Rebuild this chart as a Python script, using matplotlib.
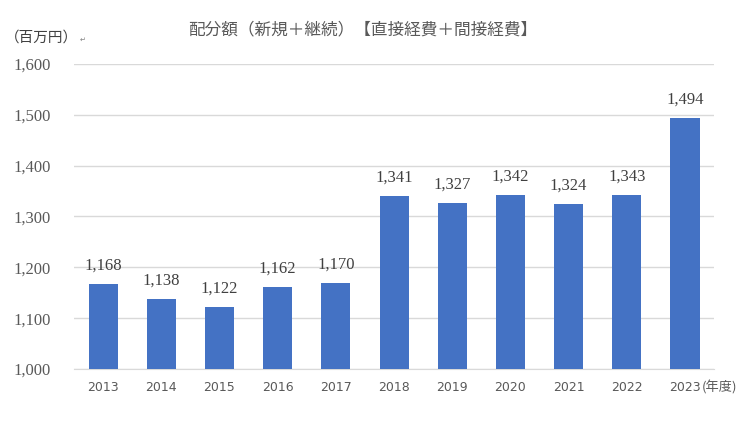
import numpy as np
import matplotlib
matplotlib.use("Agg")
import matplotlib.pyplot as plt

years = ["2013", "2014", "2015", "2016", "2017", "2018", "2019", "2020", "2021", "2022", "2023"]
values = [1168, 1138, 1122, 1162, 1170, 1341, 1327, 1342, 1324, 1343, 1494]
yticks = [1000, 1100, 1200, 1300, 1400, 1500, 1600]

jp = ["Noto Sans CJK JP", "DejaVu Sans"]
serif = "Liberation Serif"
txt = "#595959"

fig = plt.figure(figsize=(7.4, 4.23), dpi=100)
ax = fig.add_axes([0.1, 0.1277, 0.865, 0.721])

x = np.arange(len(years))
ax.bar(x, values, width=0.5, color="#4472C4", zorder=3)
for xi, v in zip(x, values):
    ax.text(xi, v + 20, f"{v:,}", ha="center", va="bottom", fontsize=12,
            family=serif, color="#404040")

ax.set_ylim(1000, 1600)
ax.set_xlim(-0.5, len(years) - 0.5)
ax.set_yticks(yticks)
ax.set_yticklabels([f"{t:,}" for t in yticks], family=serif, fontsize=12, color=txt)
ax.set_xticks(x)
ax.set_xticklabels(years, fontsize=9, color=txt)
ax.tick_params(length=0)
ax.tick_params(axis="y", pad=17)
ax.tick_params(axis="x", pad=9)
ax.text(len(years) - 1 + 0.28, -0.038, "(年度)", transform=ax.get_xaxis_transform(),
        ha="left", va="top", fontsize=9.5, color=txt, family=jp)

ax.grid(axis="y", color="#D9D9D9", linewidth=1, zorder=0)
for s in ["top", "right", "left"]:
    ax.spines[s].set_visible(False)
ax.spines["bottom"].set_color("#D9D9D9")

fig.text(0.49, 0.93, "配分額（新規＋継続）【直接経費＋間接経費】", ha="center", va="center",
         fontsize=12, color=txt, family=jp)
fig.text(0.006, 0.912, "（百万円）", ha="left", va="center", fontsize=10.5, color="#404040", family=jp)
fig.text(0.108, 0.905, "↵", ha="left", va="center", fontsize=5, color="#808080", family=jp)

fig.savefig("out.png", dpi=100)
